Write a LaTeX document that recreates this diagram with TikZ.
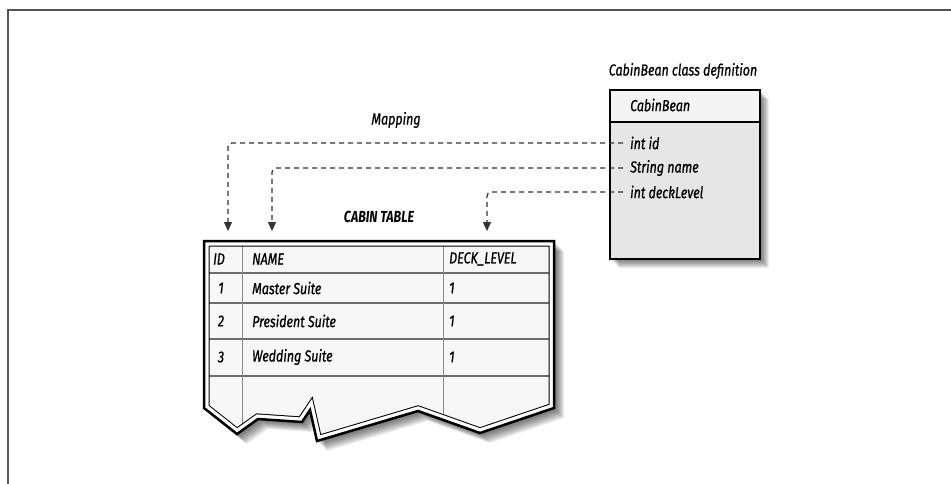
\documentclass[tikz,border=0pt]{standalone}
\usepackage{fontspec}
\setmainfont{Fira Sans}[FakeStretch=0.78]
\usetikzlibrary{arrows.meta}
\definecolor{framegray}{HTML}{555555}
\definecolor{linkgray}{HTML}{333333}
\definecolor{rowgray}{HTML}{6E6E6E}
\definecolor{colgray}{HTML}{8A8A8A}
\definecolor{paper}{HTML}{F7F7F7}
\definecolor{beanhead}{HTML}{F4F4F4}
\definecolor{beanbody}{HTML}{E6E6E6}
% outline of the torn table sheet
\def\tablepath{(204,241) -- (554,241) -- (554,408) -- (480,433) -- (418,411) -- (317,441) -- (310,410) -- (302,422) -- (258,419) -- (237,434) -- (204,408) -- cycle}
\begin{document}
\begin{tikzpicture}[x=1pt,y=-1pt,
  lbl/.style={font=\fontsize{16}{18}\selectfont\itshape\addfontfeature{FakeBold=0.8}, inner sep=0pt},
  cell/.style={lbl, anchor=west},
  title/.style={font=\fontsize{16}{18}\selectfont\bfseries\itshape, inner sep=0pt},
  maplink/.style={draw=linkgray, line width=1.3pt, dash pattern=on 5pt off 4pt,
    rounded corners=4pt, -{Triangle[width=8pt,length=9pt]}},
  shadowcopy/.style={fill=black, opacity=0.075}]
\useasboundingbox (0,0) rectangle (951,484);

% page frame
\draw[framegray, line width=2pt] (8,484) -- (8,10) -- (951,10);

% ---- class box ----
\foreach \d in {2,...,9}
  \fill[shadowcopy] (610+\d,90+\d) rectangle (760+\d,259+\d);
\fill[beanbody] (610,122) rectangle (760,259);
\fill[beanhead] (610,90) rectangle (760,122);
\node[draw=black, line width=2.5pt, minimum width=150pt, minimum height=169pt,
  inner sep=0pt] (bean) at (685,174.5) {};
\draw[black, line width=2.2pt] (bean.west |- 0,122) -- (bean.east |- 0,122);
\node[lbl] (beancap) at (683,71) {CabinBean class definition};
\node[cell] (bname) at (630,105) {CabinBean};
\node[cell] (fid) at (630,143) {int id};
\node[cell] (fname) at (630,168) {String name};
\node[cell] (flevel) at (630,192) {int deckLevel};

% ---- table ----
\foreach \d in {2,...,10}
  \fill[shadowcopy, shift={(\d,\d)}] \tablepath;
\fill[paper] \tablepath;
\begin{scope}
  \clip \tablepath;
  % grid
  \foreach \yy in {273,303,339,376}
    \draw[rowgray, line width=1.6pt] (204,\yy) -- (554,\yy);
  \foreach \xx in {242,443}
    \draw[colgray, line width=0.8pt] (\xx,241) -- (\xx,445);
  % inner rule of the double border
  \draw[black, line width=11pt, line join=miter] \tablepath;
  \draw[white, line width=9pt, line join=miter] \tablepath;
\end{scope}
\draw[black, line width=2.5pt, line join=miter] \tablepath;

\node[title] (ttl) at (379,217) {CABIN TABLE};
\node[cell] (hid) at (213,259) {ID};
\node[cell] (hname) at (252,259) {NAME};
\node[cell] (hlevel) at (449,259) {DECK\_LEVEL};

\node[lbl] (r1id) at (221,288) {1};
\node[cell] (r1name) at (252,288) {Master Suite};
\node[cell] (r1lvl) at (449,288) {1};
\node[lbl] (r2id) at (221,321) {2};
\node[cell] (r2name) at (252,321) {President Suite};
\node[cell] (r2lvl) at (449,321) {1};
\node[lbl] (r3id) at (221,357) {3};
\node[cell] (r3name) at (252,357) {Wedding Suite};
\node[cell] (r3lvl) at (449,357) {1};

% ---- mapping links ----
\node[lbl] (map) at (396,120) {Mapping};
\coordinate (tid) at (228,231);
\coordinate (tname) at (272,231);
\coordinate (tlevel) at (487,231);
\draw[maplink] ([xshift=-7pt]fid.west) -| (tid);
\draw[maplink] ([xshift=-7pt]fname.west) -| (tname);
\draw[maplink] ([xshift=-7pt]flevel.west) -| (tlevel);
\end{tikzpicture}
\end{document}
